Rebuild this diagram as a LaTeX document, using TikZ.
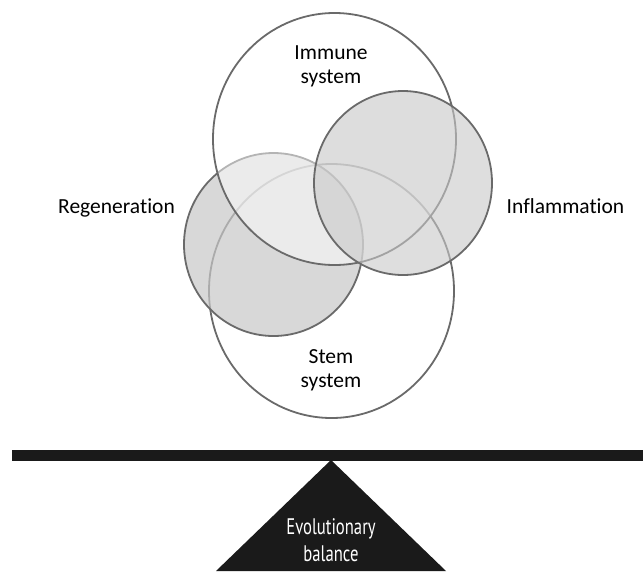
\documentclass[tikz,border=0pt]{standalone}
\usepackage{fontspec}
\setmainfont{Carlito}[Ligatures=NoCommon]
\newfontfamily\condfont[FakeStretch=0.74]{PT Sans}
\definecolor{ringline}{HTML}{6A6A6A}
\definecolor{ringfill}{HTML}{C8C8C8}
\definecolor{baldark}{HTML}{1A1A1A}
\tikzset{
  ring/.style={draw=ringline, line width=1.8pt},
  label/.style={font=\fontsize{21.5}{24.5}\selectfont, align=center, text=black, inner sep=0pt},
  ballabel/.style={font=\condfont\fontsize{22.5}{27}\selectfont, align=center, text=white, inner sep=0pt}
}
\begin{document}
\begin{tikzpicture}[x=1pt,y=-1pt]
\useasboundingbox (0,0) rectangle (643,571);
% stem system
\path[ring, fill=white] (331.5,291) ellipse [x radius=122.5, y radius=127];
% regeneration
\path[ring, fill=ringfill, fill opacity=0.7] (273.5,244.5) ellipse [x radius=89.5, y radius=91.5];
% immune system
\path[ring, fill=white, fill opacity=0.5] (334.5,139) ellipse [x radius=121.5, y radius=126];
% inflammation
\path[ring, fill=ringfill, fill opacity=0.6] (403,183) ellipse [x radius=89, y radius=92];
% labels
\node[label] (immune) at (331,66.5) {Immune\\system};
\node[label] (stem) at (331,370.3) {Stem\\system};
\node[label] (regen) at (116.5,208.2) {Regeneration};
\node[label] (infl) at (565.5,205.8) {Inflammation};
% balance
\fill[baldark] (12,450) rectangle (643,461);
\fill[baldark] (331,460) -- (446,571) -- (216,571) -- cycle;
\node[ballabel] (evo) at (331,540.5) {Evolutionary\\balance};
\end{tikzpicture}
\end{document}
